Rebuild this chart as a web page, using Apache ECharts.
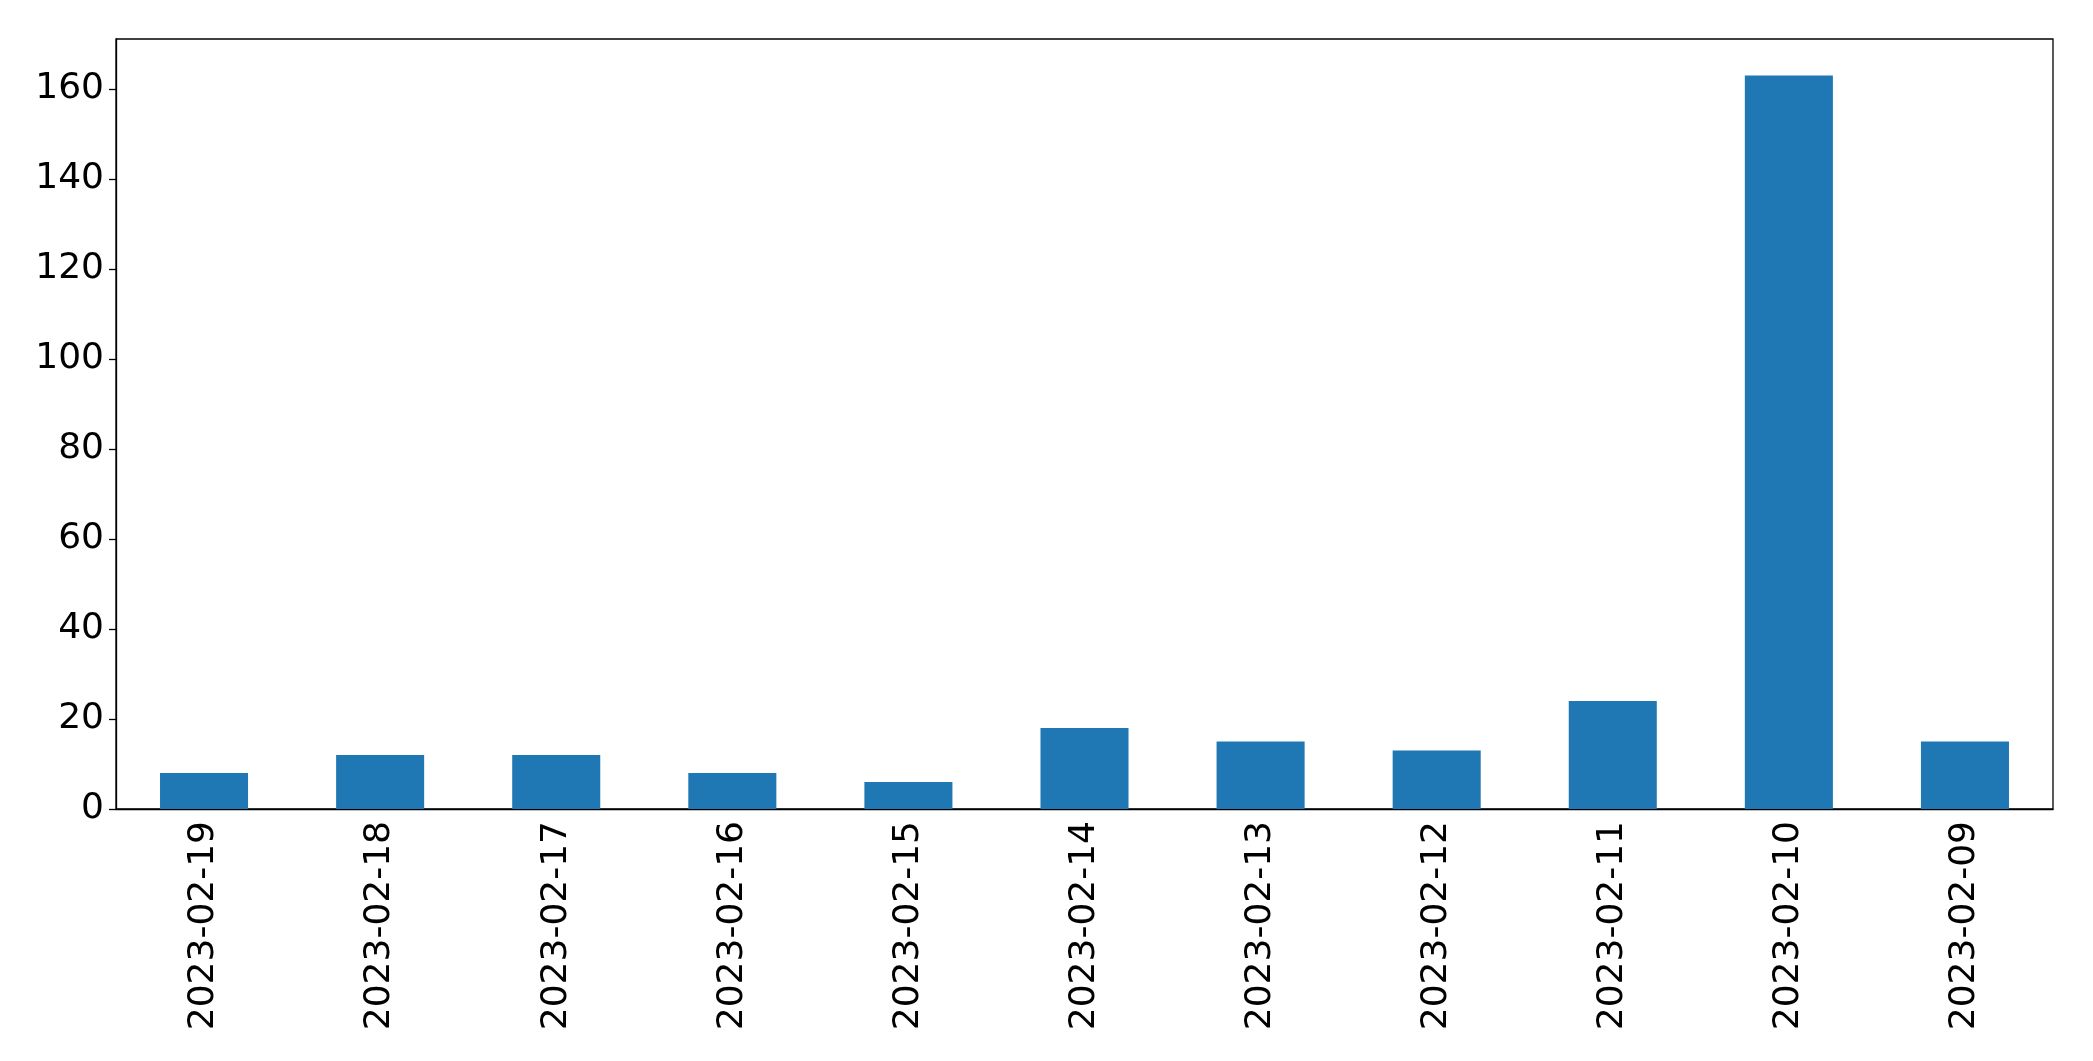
<!DOCTYPE html>
<html><head><meta charset="utf-8">
<script src="https://cdn.jsdelivr.net/npm/echarts@6/dist/echarts.min.js"></script>
<style>html,body{margin:0;padding:0;background:#fff}#c{width:2093px;height:1061px}</style>
</head><body><div id="c"></div>
<script>
const categories = ["2023-02-19","2023-02-18","2023-02-17","2023-02-16","2023-02-15","2023-02-14","2023-02-13","2023-02-12","2023-02-11","2023-02-10","2023-02-09"];
const values = [8,12,12,8,6,18,15,13,24,163,15];
const chart = echarts.init(document.getElementById('c'));
const font = {fontFamily:'DejaVu Sans', fontSize:36, color:'#000'};
chart.setOption({
  animation:false,
  grid:{left:116,right:40,top:39,bottom:252,show:true,borderColor:'#000',borderWidth:1.3},
  xAxis:{type:'category',data:categories,
    axisLine:{lineStyle:{color:'#000',width:1.3}},
    axisTick:{alignWithLabel:true,length:7,lineStyle:{color:'#000',width:1.3}},
    axisLabel:Object.assign({rotate:90,interval:0,margin:12},font)},
  yAxis:{type:'value',min:0,max:171.1,interval:20,
    axisLine:{show:true,lineStyle:{color:'#000',width:1.3}},
    axisTick:{show:true,length:7,lineStyle:{color:'#000',width:1.3}},
    splitLine:{show:false},
    axisLabel:Object.assign({margin:12,showMaxLabel:false},font)},
  series:[{type:'bar',data:values,barWidth:'50%',itemStyle:{color:'#1f77b4'}}]
});
</script></body></html>
